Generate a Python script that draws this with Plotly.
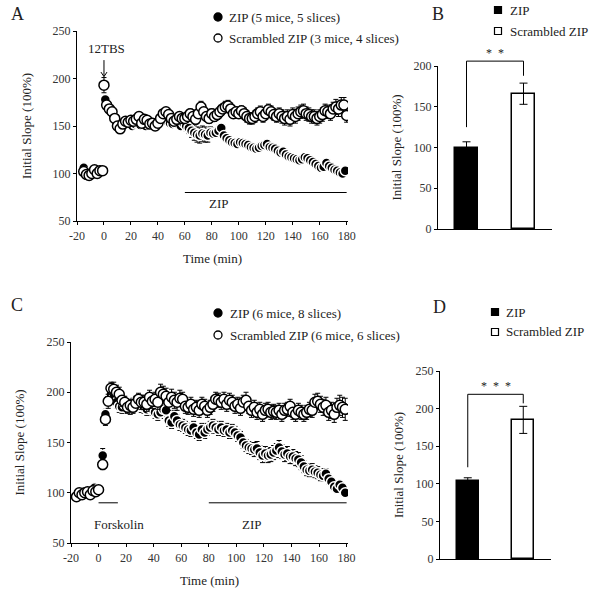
import plotly.graph_objects as go

W, H = 592, 591
FONT = "Liberation Serif, Times New Roman, Times, serif"

# ---------------- Panel A (12TBS) ----------------
a_zip_t = list(range(-15, 0, 2)) + list(range(1, 180, 2))
a_zip_v = [106, 101, 100, 99, 101, 100, 102, 102,
           178, 170, 165, 160, 155, 150, 148, 151, 153, 152,
           150, 152, 153, 151, 152, 150, 152, 153, 151, 152,
           153, 155, 156, 155, 153, 152, 153, 152, 150, 153,
           150, 148, 145, 143, 141, 140, 142, 141, 140, 143,
           142, 143, 145, 148, 140, 137, 135, 133, 132, 131,
           133, 132, 131, 130, 128, 127, 126, 127, 129, 130,
           131, 128, 127, 126, 124, 122, 123, 120, 118, 117,
           116, 115, 114, 115, 117, 116, 114, 112, 110, 108,
           106, 107, 111, 108, 106, 104, 103, 101, 100, 103]
a_zip_e = [3, 3, 3, 3, 3, 3, 3, 3,
           4, 4, 3, 3, 3, 3, 3, 3, 3, 3,
           3, 3, 3, 3, 3, 3, 3, 3, 3, 3,
           3, 3, 3, 3, 3, 4, 4, 4, 4, 5,
           5, 6, 7, 8, 8, 8, 8, 8, 7, 6,
           5, 5, 4, 4, 4, 4, 4, 4, 4, 4,
           4, 4, 4, 4, 4, 4, 4, 4, 4, 4,
           4, 4, 4, 4, 4, 4, 4, 4, 4, 4,
           4, 4, 4, 4, 4, 4, 4, 4, 4, 4,
           4, 4, 4, 4, 4, 4, 4, 4, 4, 3]

a_scr_t = list(range(-15, 0, 2)) + list(range(0, 181, 2))
a_scr_v = [102, 99, 98, 100, 104, 100, 103, 103,
           193, 172, 168, 165, 158, 150, 147, 152, 155, 154,
           156, 155, 157, 160, 153, 157, 156, 152, 153, 150,
           153, 158, 163, 165, 162, 158, 155, 157, 160, 158,
           158, 160, 163, 160, 157, 163, 170, 165, 160, 158,
           163, 160, 162, 165, 168, 170, 171, 168, 163, 165,
           163, 166, 163, 160, 158, 158, 160, 163, 165, 160,
           163, 167, 165, 162, 160, 163, 160, 158, 160, 157,
           162, 160, 163, 165, 166, 163, 162, 160, 160, 158,
           160, 162, 166, 165, 163, 168, 170, 168, 172, 172,
           161]
a_scr_e = [3, 3, 3, 3, 3, 3, 3, 3,
           8, 5, 5, 4, 4, 4, 4, 4, 4, 4,
           4, 4, 4, 4, 4, 4, 4, 4, 4, 4,
           4, 4, 4, 4, 4, 4, 4, 4, 4, 4,
           4, 4, 5, 5, 5, 5, 6, 5, 5, 5,
           5, 5, 5, 5, 5, 6, 6, 6, 5, 5,
           5, 5, 6, 6, 6, 6, 6, 6, 6, 6,
           6, 6, 6, 6, 6, 6, 7, 7, 7, 7,
           7, 7, 7, 7, 7, 7, 7, 7, 7, 7,
           7, 7, 7, 7, 7, 7, 8, 8, 8, 8,
           7]

# ---------------- Panel C (Forskolin) ----------------
c_zip_t = list(range(-15, 0, 2)) + list(range(3, 180, 2))
c_zip_v = [97, 99, 100, 99, 101, 102, 105, 103,
           137, 178, 193, 198, 195, 190, 186, 185, 188, 186,
           184, 188, 190, 188, 186, 185, 183, 185, 183, 180,
           178, 180, 183, 182, 172, 170, 176, 172, 168, 167,
           165, 163, 162, 165, 160, 158, 163, 160, 163, 165,
           167, 165, 163, 165, 162, 163, 160, 162, 160, 157,
           155, 150, 147, 145, 144, 143, 144, 140, 137, 139,
           137, 138, 140, 142, 145, 141, 138, 139, 136, 136,
           134, 133, 130, 126, 123, 122, 123, 121, 120, 118,
           117, 119, 114, 111, 106, 104, 108, 105, 100]
c_zip_e = [2, 2, 2, 2, 2, 2, 2, 2,
           7, 5, 5, 5, 5, 6, 6, 6, 6, 6,
           6, 6, 6, 6, 6, 6, 6, 6, 6, 6,
           6, 6, 6, 6, 6, 6, 6, 6, 6, 6,
           6, 6, 6, 6, 6, 6, 6, 6, 6, 6,
           6, 6, 6, 6, 6, 6, 6, 6, 6, 6,
           6, 6, 6, 6, 6, 7, 7, 7, 7, 7,
           7, 7, 7, 7, 7, 7, 7, 7, 7, 7,
           7, 7, 7, 6, 6, 6, 6, 6, 6, 6,
           5, 5, 5, 5, 4, 4, 4, 4, 3]

c_scr_t = list(range(-16, 1, 2)) + list(range(3, 180, 2))
c_scr_v = [96, 100, 98, 100, 101, 98, 102, 101, 103,
           128, 173, 191, 204, 203, 200, 198, 192, 190, 185,
           187, 185, 189, 193, 190, 190, 188, 195, 191, 193,
           190, 200, 198, 196, 190, 195, 192, 190, 194, 193,
           186, 185, 188, 183, 185, 182, 188, 186, 182, 185,
           188, 193, 192, 190, 193, 188, 192, 190, 186, 188,
           184, 190, 192, 186, 182, 185, 180, 183, 178, 182,
           183, 180, 181, 180, 182, 178, 182, 183, 186, 180,
           178, 182, 180, 178, 180, 183, 182, 190, 191, 188,
           185, 187, 180, 182, 178, 185, 187, 185, 183]
c_scr_e = [2, 2, 2, 2, 2, 2, 2, 2, 2,
           5, 6, 7, 6, 7, 7, 7, 6, 6, 6,
           6, 6, 6, 6, 7, 7, 7, 7, 7, 7,
           7, 8, 8, 8, 8, 8, 8, 8, 8, 7,
           7, 7, 7, 7, 7, 7, 7, 7, 7, 7,
           7, 7, 7, 7, 7, 7, 7, 7, 7, 7,
           7, 7, 8, 7, 7, 7, 7, 7, 7, 7,
           7, 7, 7, 7, 7, 7, 7, 7, 7, 7,
           7, 7, 7, 7, 7, 7, 7, 8, 8, 8,
           8, 8, 8, 8, 8, 9, 10, 10, 11]

# ---------------- Bar panels B and D ----------------
bar_groups = ["ZIP", "Scrambled ZIP"]
b_vals = [100, 166]
b_errs = [7, 13]
d_vals = [104, 185]
d_errs = [4, 18]

time_ticks = [-20, 0, 20, 40, 60, 80, 100, 120, 140, 160, 180]
time_tick_text = ["-20", "0", "20", "40", "60", "80", "100", "120", "140", "160", "180"]

fig = go.Figure()


def px_x(p):
    return p / W


def px_y(p):
    return 1 - p / H


def add_series(t, v, e, filled, xa, ya):
    fig.add_trace(go.Scatter(
        x=t, y=v, mode="markers", xaxis=xa, yaxis=ya, showlegend=False,
        hoverinfo="skip",
        marker=dict(size=10, color="black" if filled else "white",
                    line=dict(color="white" if filled else "black", width=1.5)),
        error_y=dict(type="data", array=e, visible=True, color="black",
                     thickness=1, width=2.5),
    ))


add_series(a_zip_t, a_zip_v, a_zip_e, True, "x", "y")
add_series(a_scr_t, a_scr_v, a_scr_e, False, "x", "y")
add_series(c_zip_t, c_zip_v, c_zip_e, True, "x3", "y3")
add_series(c_scr_t, c_scr_v, c_scr_e, False, "x3", "y3")

for vals, errs, xa, ya in [(b_vals, b_errs, "x2", "y2"), (d_vals, d_errs, "x4", "y4")]:
    fig.add_trace(go.Bar(
        x=[0, 1], y=vals, width=0.4, xaxis=xa, yaxis=ya, showlegend=False,
        hoverinfo="skip",
        marker=dict(color=["black", "white"], line=dict(color="black", width=1.5)),
        error_y=dict(type="data", array=errs, visible=True, color="black",
                     thickness=1, width=4),
    ))

tickfont = dict(family=FONT, size=12, color="#333")
titlefont = dict(family=FONT, size=13, color="#222")

common = dict(showgrid=False, zeroline=False, showline=True, linecolor="black",
              linewidth=1.2, tickcolor="black", tickfont=tickfont, mirror=False,
              automargin=False)

# domains (pixel based)
dA = dict(x=[px_x(77), px_x(348)], y=[px_y(221), px_y(31)])
dB = dict(x=[px_x(438), px_x(552)], y=[px_y(229), px_y(66)])
dC = dict(x=[px_x(71), px_x(348)], y=[px_y(543), px_y(342)])
dD = dict(x=[px_x(440), px_x(551)], y=[px_y(559), px_y(371)])

rngB = dict(x=[-0.5, 1.5], y=[0, 200])
rngD = dict(x=[-0.5, 1.5], y=[0, 250])

fig.update_layout(
    width=W, height=H, margin=dict(l=0, r=0, t=0, b=0, autoexpand=False),
    paper_bgcolor="white", plot_bgcolor="white",
    bargap=0, hovermode=False,
    xaxis=dict(domain=dA["x"], anchor="y", range=[-20, 181], tickvals=time_ticks,
               ticktext=time_tick_text, ticks="outside", ticklen=3,
               title=dict(text="Time (min)", font=titlefont, standoff=12), **common),
    yaxis=dict(domain=dA["y"], anchor="x", range=[50, 250], dtick=50,
               ticks="outside", ticklen=3,
               title=dict(text="Initial Slope (100%)", font=titlefont, standoff=17), **common),
    xaxis2=dict(domain=dB["x"], anchor="y2", range=rngB["x"], showticklabels=False,
                ticks="", **common),
    yaxis2=dict(domain=dB["y"], anchor="x2", range=rngB["y"], dtick=50,
                ticks="outside", ticklen=3,
                title=dict(text="Initial Slope (100%)", font=titlefont, standoff=8), **common),
    xaxis3=dict(domain=dC["x"], anchor="y3", range=[-20, 181], tickvals=time_ticks,
                ticktext=time_tick_text, ticks="outside", ticklen=3,
                title=dict(text="Time (min)", font=titlefont, standoff=12), **common),
    yaxis3=dict(domain=dC["y"], anchor="x3", range=[50, 250], dtick=50,
                ticks="outside", ticklen=3,
                title=dict(text="Initial Slope (100%)", font=titlefont, standoff=18), **common),
    xaxis4=dict(domain=dD["x"], anchor="y4", range=rngD["x"], showticklabels=False,
                ticks="", **common),
    yaxis4=dict(domain=dD["y"], anchor="x4", range=rngD["y"], dtick=50,
                ticks="outside", ticklen=3,
                title=dict(text="Initial Slope (100%)", font=titlefont, standoff=8), **common),
)

ann = []
shapes = []


def text(x, y, s, size=13, xanchor="left", xref="paper", yref="paper", color="#222"):
    ann.append(dict(x=x, y=y, xref=xref, yref=yref, text=s, showarrow=False,
                    xanchor=xanchor, yanchor="middle", borderpad=0,
                    font=dict(family=FONT, size=size, color=color)))


def to_paper(xv, yv, dom, rng):
    xp = dom["x"][0] + (xv - rng["x"][0]) / (rng["x"][1] - rng["x"][0]) * (dom["x"][1] - dom["x"][0])
    yp = dom["y"][0] + (yv - rng["y"][0]) / (rng["y"][1] - rng["y"][0]) * (dom["y"][1] - dom["y"][0])
    return xp, yp


# panel letters
text(px_x(10), px_y(14), "A", size=18)
text(px_x(431), px_y(14), "B", size=18)
text(px_x(10), px_y(305), "C", size=18)
text(px_x(432), px_y(307), "D", size=18)


def legend_item(xc, yc, label, kind, xtext):
    if kind in ("dot", "ring"):
        shapes.append(dict(type="circle", xref="paper", yref="paper",
                           xsizemode="pixel", ysizemode="pixel",
                           xanchor=px_x(xc), yanchor=px_y(yc),
                           x0=-4, x1=4, y0=-4, y1=4,
                           fillcolor="black" if kind == "dot" else "white",
                           line=dict(color="black", width=1.3)))
    else:
        shapes.append(dict(type="rect", xref="paper", yref="paper",
                           xsizemode="pixel", ysizemode="pixel",
                           xanchor=px_x(xc), yanchor=px_y(yc),
                           x0=-3.5, x1=3.5, y0=-3.5, y1=3.5,
                           fillcolor="black" if kind == "sq" else "white",
                           line=dict(color="black", width=1.2)))
    text(px_x(xtext), px_y(yc), label)


legend_item(218, 17, "ZIP (5 mice, 5 slices)", "dot", 228)
legend_item(218, 38, "Scrambled ZIP (3 mice, 4 slices)", "ring", 228)
legend_item(498, 10, "ZIP", "sq", 509)
legend_item(498, 31, "Scrambled ZIP", "osq", 509)
legend_item(218, 313, "ZIP (6 mice, 8 slices)", "dot", 229)
legend_item(218, 335, "Scrambled ZIP (6 mice, 6 slices)", "ring", 229)
legend_item(495, 312, "ZIP", "sq", 505)
legend_item(495, 332, "Scrambled ZIP", "osq", 505)

# Panel A annotations
text(2, 232, "12TBS", size=13, xanchor="center", xref="x", yref="y")
ann.append(dict(x=0, y=202, xref="x", yref="y", ax=0, ay=-18, showarrow=True,
                arrowhead=0, arrowwidth=1, arrowcolor="black", text=""))
ann.append(dict(x=0, y=202, xref="x", yref="y", ax=-4, ay=-6, showarrow=True,
                arrowhead=0, arrowwidth=1, arrowcolor="black", text=""))
ann.append(dict(x=0, y=202, xref="x", yref="y", ax=4, ay=-6, showarrow=True,
                arrowhead=0, arrowwidth=1, arrowcolor="black", text=""))
shapes.append(dict(type="line", xref="x", yref="y", x0=60, x1=180, y0=80, y1=80,
                   line=dict(color="black", width=1)))
text(85, 68, "ZIP", size=13, xanchor="center", xref="x", yref="y")

# Panel C annotations
shapes.append(dict(type="line", xref="x3", yref="y3", x0=0, x1=14, y0=90, y1=90,
                   line=dict(color="black", width=1)))
text(15, 68, "Forskolin", size=13, xanchor="center", xref="x3", yref="y3")
shapes.append(dict(type="line", xref="x3", yref="y3", x0=80, x1=180, y0=90, y1=90,
                   line=dict(color="black", width=1)))
text(111, 68, "ZIP", size=13, xanchor="center", xref="x3", yref="y3")


# significance brackets (paper coordinates so they may extend above the axis)
def bracket(dom, rng, y_left, y_top, y_right, y_star, stars):
    x0, yl = to_paper(0, y_left, dom, rng)
    x1, yt = to_paper(1, y_top, dom, rng)
    _, yr = to_paper(1, y_right, dom, rng)
    xm, ys = to_paper(0.5, y_star, dom, rng)
    shapes.append(dict(type="path", xref="paper", yref="paper",
                       path=f"M {x0},{yl} L {x0},{yt} L {x1},{yt} L {x1},{yr}",
                       line=dict(color="black", width=1)))
    text(xm, ys, stars, size=12, xanchor="center")


bracket(dB, rngB, 125, 206, 188, 216, "*&nbsp;&nbsp;*")
bracket(dD, rngD, 122, 219, 207, 230, "*&nbsp;&nbsp;*&nbsp;&nbsp;*")

fig.update_layout(annotations=ann, shapes=shapes)
fig.write_html("out.html", config={"displayModeBar": False},
               post_script="document.body.style.margin='0';")
